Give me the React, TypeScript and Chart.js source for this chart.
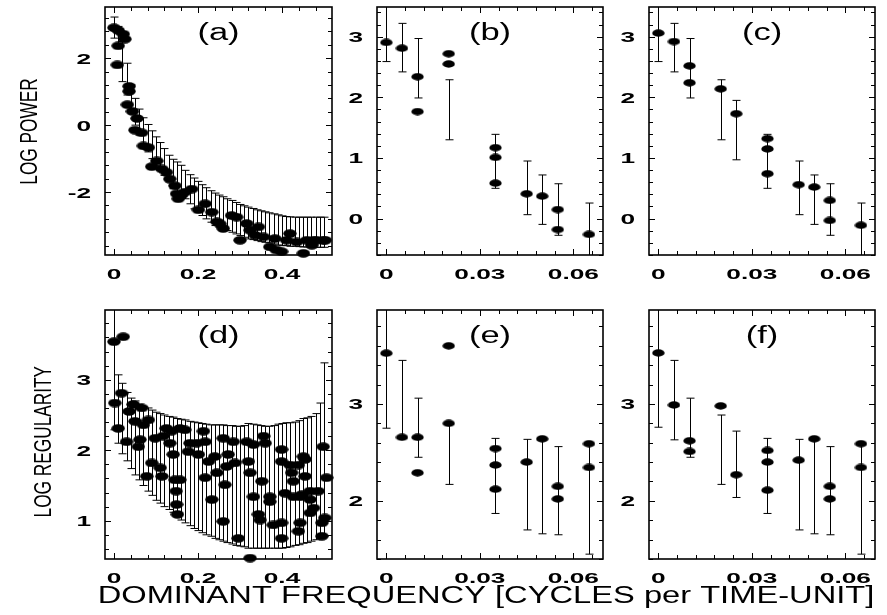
import React, { useEffect, useRef } from "react";
import { Chart, registerables } from "chart.js";
Chart.register(...registerables);

const W = 887;
const H = 615;

// ---------- shared x positions of the error bars ----------
const wideBarX = [0, 0.01, 0.02, 0.03, 0.04, 0.05, 0.06, 0.07, 0.08, 0.09, 0.1, 0.11, 0.12, 0.13, 0.14, 0.15, 0.16, 0.17, 0.18, 0.19, 0.2, 0.21, 0.22, 0.23, 0.24, 0.25, 0.26, 0.27, 0.28, 0.29, 0.3, 0.31, 0.32, 0.33, 0.34, 0.35, 0.36, 0.37, 0.38, 0.39, 0.4, 0.41, 0.42, 0.43, 0.44, 0.45, 0.46, 0.47, 0.48, 0.49, 0.5];
const narrowBarX = [0, 0.005, 0.01, 0.02, 0.035, 0.045, 0.05, 0.055, 0.065];
const narrowBarX2 = [0, 0.005, 0.01, 0.02, 0.025, 0.035, 0.045, 0.05, 0.055, 0.065];

// ---------- panel (a) LOG POWER, all ----------
const aPointX = [0.0, 0.01, 0.022, 0.026, 0.01, 0.008, 0.036, 0.036, 0.032, 0.044, 0.055, 0.05, 0.066, 0.07, 0.082, 0.09, 0.102, 0.114, 0.125, 0.133, 0.145, 0.149, 0.153, 0.16, 0.169, 0.185, 0.201, 0.217, 0.233, 0.245, 0.26, 0.252, 0.28, 0.292, 0.3, 0.316, 0.324, 0.344, 0.336, 0.356, 0.371, 0.383, 0.386, 0.399, 0.411, 0.419, 0.435, 0.451, 0.459, 0.471, 0.475, 0.482, 0.498, 0.503];
const aPointY = [2.91, 2.83, 2.72, 2.57, 2.37, 1.8, 1.16, 1.01, 0.61, 0.41, 0.2, -0.15, -0.23, -0.62, -0.67, -1.24, -1.07, -1.31, -1.41, -1.61, -1.81, -2.05, -2.2, -2.1, -2.0, -1.91, -2.53, -2.35, -2.6, -2.89, -3.09, -2.95, -2.7, -2.75, -3.44, -2.94, -3.14, -3.04, -3.29, -3.34, -3.64, -3.39, -3.73, -3.78, -3.44, -3.24, -3.49, -3.83, -3.44, -3.59, -3.44, -3.44, -3.44, -3.44];
const aBarHigh = [3.23, 2.95, 2.5, 1.85, 1.2, 0.8, 0.48, 0.22, 0.02, -0.17, -0.35, -0.52, -0.7, -0.9, -1.02, -1.1, -1.2, -1.35, -1.48, -1.58, -1.68, -1.78, -1.87, -1.96, -2.03, -2.09, -2.14, -2.2, -2.25, -2.31, -2.37, -2.41, -2.45, -2.49, -2.53, -2.56, -2.59, -2.62, -2.65, -2.68, -2.71, -2.73, -2.74, -2.75, -2.75, -2.75, -2.75, -2.75, -2.75, -2.75, -2.75];
const aBarLow = [2.6, 2.3, 1.3, 0.9, 0.4, 0.0, -0.3, -0.6, -0.8, -1.0, -1.2, -1.35, -1.5, -1.7, -1.9, -2.0, -2.1, -2.2, -2.35, -2.5, -2.6, -2.7, -2.8, -2.9, -3.0, -3.05, -3.1, -3.15, -3.2, -3.25, -3.3, -3.35, -3.4, -3.42, -3.45, -3.48, -3.5, -3.52, -3.55, -3.58, -3.6, -3.6, -3.62, -3.62, -3.63, -3.64, -3.64, -3.65, -3.65, -3.65, -3.65];

// ---------- panel (b) ----------
const bPointX = [0, 0.005, 0.01, 0.01, 0.02, 0.02, 0.035, 0.035, 0.035, 0.045, 0.05, 0.055, 0.055, 0.065];
const bPointY = [2.905, 2.81, 2.34, 1.765, 2.72, 2.55, 1.17, 1.01, 0.585, 0.41, 0.37, 0.15, -0.18, -0.26];
const bBarHigh = [3.6, 3.22, 2.97, 2.29, 1.39, 0.95, 0.72, 0.575, 0.257];
const bBarLow = [2.59, 2.42, 1.99, 1.3, 0.5, 0.065, -0.095, -0.275, -0.65];

// ---------- panel (c) ----------
const cPointX = [0, 0.005, 0.01, 0.01, 0.02, 0.025, 0.035, 0.035, 0.035, 0.045, 0.05, 0.055, 0.055, 0.065];
const cPointY = [3.06, 2.92, 2.52, 2.24, 2.14, 1.73, 1.32, 1.15, 0.74, 0.56, 0.52, 0.3, -0.03, -0.11];
const cBarHigh = [3.6, 3.22, 2.97, 2.29, 1.95, 1.39, 0.95, 0.72, 0.575, 0.257];
const cBarLow = [2.59, 2.42, 1.99, 1.3, 0.97, 0.5, 0.065, -0.095, -0.275, -0.65];

// ---------- panel (d) LOG REGULARITY, all ----------
const dPointX = [0, 0.022, 0.018, 0.002, 0.01, 0.03, 0.036, 0.046, 0.05, 0.058, 0.066, 0.07, 0.062, 0.082, 0.078, 0.09, 0.098, 0.11, 0.114, 0.117, 0.125, 0.133, 0.141, 0.137, 0.145, 0.148, 0.149, 0.151, 0.157, 0.157, 0.169, 0.177, 0.181, 0.197, 0.201, 0.213, 0.217, 0.217, 0.225, 0.233, 0.24, 0.245, 0.26, 0.264, 0.26, 0.268, 0.272, 0.284, 0.288, 0.296, 0.316, 0.32, 0.324, 0.324, 0.332, 0.332, 0.344, 0.348, 0.352, 0.356, 0.36, 0.371, 0.371, 0.379, 0.399, 0.399, 0.399, 0.399, 0.407, 0.419, 0.423, 0.427, 0.439, 0.443, 0.451, 0.467, 0.467, 0.467, 0.475, 0.439, 0.427, 0.455, 0.455, 0.447, 0.486, 0.498, 0.506, 0.502, 0.495, 0.495, 0.443];
const dPointY = [3.54, 3.61, 2.81, 2.67, 2.31, 2.12, 2.55, 2.65, 2.41, 2.05, 2.6, 2.36, 2.15, 2.43, 1.63, 1.82, 2.17, 1.75, 1.63, 2.2, 2.31, 2.1, 1.94, 2.27, 1.58, 1.42, 1.23, 1.09, 1.58, 2.31, 2.29, 1.98, 2.1, 2.1, 1.94, 2.27, 2.12, 1.61, 1.84, 1.3, 1.91, 1.68, 2.17, 1.51, 0.99, 1.77, 1.94, 2.12, 1.82, 0.75, 2.12, 1.84, 1.68, 0.47, 1.34, 2.08, 1.09, 1.01, 1.56, 2.2, 2.1, 1.34, 1.27, 0.94, 2.01, 1.84, 0.97, 0.75, 1.39, 1.79, 1.68, 1.34, 0.85, 1.34, 1.91, 1.42, 1.3, 1.11, 1.18, 1.79, 1.56, 1.87, 1.63, 1.37, 1.42, 2.05, 1.61, 1.04, 0.97, 0.78, 0.97];
const dBarHigh = [4.1, 3.07, 2.95, 2.82, 2.74, 2.7, 2.65, 2.62, 2.6, 2.57, 2.54, 2.52, 2.5, 2.48, 2.47, 2.45, 2.44, 2.43, 2.41, 2.4, 2.39, 2.38, 2.37, 2.36, 2.36, 2.36, 2.36, 2.35, 2.35, 2.34, 2.34, 2.35, 2.38, 2.37, 2.36, 2.35, 2.34, 2.34, 2.35, 2.37, 2.38, 2.39, 2.39, 2.4, 2.42, 2.45, 2.46, 2.48, 2.52, 2.67, 3.24];
const dBarLow = [2.29, 2.1, 1.95, 1.85, 1.74, 1.65, 1.58, 1.5, 1.42, 1.36, 1.29, 1.25, 1.2, 1.16, 1.12, 1.07, 1.01, 0.97, 0.93, 0.89, 0.86, 0.83, 0.8, 0.78, 0.75, 0.73, 0.71, 0.69, 0.67, 0.65, 0.64, 0.63, 0.61, 0.61, 0.61, 0.61, 0.61, 0.61, 0.61, 0.61, 0.61, 0.62, 0.63, 0.65, 0.66, 0.68, 0.69, 0.71, 0.73, 0.75, 0.78];

// ---------- panel (e) ----------
const ePointX = [0, 0.005, 0.01, 0.01, 0.02, 0.02, 0.035, 0.035, 0.035, 0.045, 0.05, 0.055, 0.055, 0.065, 0.065];
const ePointY = [3.524, 2.656, 2.656, 2.29, 3.6, 2.8, 2.54, 2.37, 2.12, 2.4, 2.64, 2.15, 2.02, 2.59, 2.345];
const eBarHigh = [4.1, 3.45, 3.06, 2.8, 2.645, 2.635, 2.64, 2.56, 2.59];
const eBarLow = [2.75, 2.65, 2.45, 2.17, 1.87, 1.7, 1.66, 1.65, 1.45];

// ---------- panel (f) ----------
const fPointX = [0, 0.005, 0.01, 0.01, 0.02, 0.025, 0.035, 0.035, 0.035, 0.045, 0.05, 0.055, 0.055, 0.065, 0.065];
const fPointY = [3.527, 2.99, 2.62, 2.51, 2.98, 2.27, 2.52, 2.4, 2.11, 2.42, 2.64, 2.15, 2.02, 2.59, 2.345];
const fBarHigh = [4.1, 3.45, 3.06, 2.886, 2.72, 2.645, 2.635, 2.64, 2.56, 2.59];
const fBarLow = [2.76, 2.63, 2.45, 2.17, 2.035, 1.87, 1.7, 1.66, 1.65, 1.45];

// ---------- tick labels ----------
const wideXTicks = [0, 0.2, 0.4];
const wideXTickText = ["0", "0.2", "0.4"];
const narrowXTicks = [0, 0.03, 0.06];
const narrowXTickText = ["0", "0.03", "0.06"];
const aYTicks = [-2, 0, 2];
const bcYTicks = [0, 1, 2, 3];
const dYTicks = [1, 2, 3];
const efYTicks = [2, 3];

const panelLabels = ["(a)", "(b)", "(c)", "(d)", "(e)", "(f)"];
const yTitleTop = "LOG POWER";
const yTitleBottom = "LOG REGULARITY";
const xTitle = "DOMINANT FREQUENCY [CYCLES per TIME-UNIT]";

type Panel = {
  label: string;
  box: [number, number, number, number]; // left, top, right, bottom
  xr: [number, number];
  yr: [number, number];
  xMinor: number;
  yMinor: number;
  xTicks: number[];
  xTickText: string[];
  yTicks: number[];
  px: number[];
  py: number[];
  bx: number[];
  bh: number[];
  bl: number[];
  dot: [number, number];
};

const TOP = [5, 255];
const BOT = [310, 559];
const COLS = [
  [105, 332],
  [377, 603],
  [649, 875],
];

const PANELS: Panel[] = [
  { label: panelLabels[0], box: [COLS[0][0], TOP[0], COLS[0][1], TOP[1]], xr: [-0.0214, 0.519], yr: [-3.88, 3.53], xMinor: 0.04, yMinor: 0.4, xTicks: wideXTicks, xTickText: wideXTickText, yTicks: aYTicks, px: aPointX, py: aPointY, bx: wideBarX, bh: aBarHigh, bl: aBarLow, dot: [14, 9] },
  { label: panelLabels[1], box: [COLS[1][0], TOP[0], COLS[1][1], TOP[1]], xr: [-0.003, 0.0695], yr: [-0.6, 3.49], xMinor: 0.006, yMinor: 0.2, xTicks: narrowXTicks, xTickText: narrowXTickText, yTicks: bcYTicks, px: bPointX, py: bPointY, bx: narrowBarX, bh: bBarHigh, bl: bBarLow, dot: [13, 8] },
  { label: panelLabels[2], box: [COLS[2][0], TOP[0], COLS[2][1], TOP[1]], xr: [-0.003, 0.0695], yr: [-0.6, 3.49], xMinor: 0.006, yMinor: 0.2, xTicks: narrowXTicks, xTickText: narrowXTickText, yTicks: bcYTicks, px: cPointX, py: cPointY, bx: narrowBarX2, bh: cBarHigh, bl: cBarLow, dot: [13, 8] },
  { label: panelLabels[3], box: [COLS[0][0], BOT[0], COLS[0][1], BOT[1]], xr: [-0.0214, 0.519], yr: [0.457, 3.99], xMinor: 0.04, yMinor: 0.2, xTicks: wideXTicks, xTickText: wideXTickText, yTicks: dYTicks, px: dPointX, py: dPointY, bx: wideBarX, bh: dBarHigh, bl: dBarLow, dot: [14, 9] },
  { label: panelLabels[4], box: [COLS[1][0], BOT[0], COLS[1][1], BOT[1]], xr: [-0.003, 0.0695], yr: [1.4, 3.97], xMinor: 0.006, yMinor: 0.2, xTicks: narrowXTicks, xTickText: narrowXTickText, yTicks: efYTicks, px: ePointX, py: ePointY, bx: narrowBarX, bh: eBarHigh, bl: eBarLow, dot: [13, 8] },
  { label: panelLabels[5], box: [COLS[2][0], BOT[0], COLS[2][1], BOT[1]], xr: [-0.003, 0.0695], yr: [1.4, 3.97], xMinor: 0.006, yMinor: 0.2, xTicks: narrowXTicks, xTickText: narrowXTickText, yTicks: efYTicks, px: fPointX, py: fPointY, bx: narrowBarX2, bh: fBarHigh, bl: fBarLow, dot: [13, 8] },
];

const FONT = "'Liberation Sans', Arial, Helvetica, sans-serif";

function drawText(
  ctx: CanvasRenderingContext2D,
  text: string,
  x: number,
  y: number,
  font: string,
  sx: number,
  align: CanvasTextAlign,
  rotate = 0
) {
  ctx.save();
  ctx.translate(x, y);
  if (rotate) ctx.rotate(rotate);
  ctx.scale(sx, 1);
  ctx.font = font;
  ctx.textAlign = align;
  ctx.textBaseline = "alphabetic";
  ctx.fillStyle = "#000";
  ctx.fillText(text, 0, 0);
  ctx.restore();
}

function multiples(min: number, max: number, step: number) {
  const out: number[] = [];
  const i0 = Math.ceil(min / step - 1e-9);
  const i1 = Math.floor(max / step + 1e-9);
  for (let i = i0; i <= i1; i++) out.push(+(i * step).toFixed(6));
  return out;
}

function makeEllipse(w: number, h: number) {
  const c = document.createElement("canvas");
  c.width = w;
  c.height = h;
  const g = c.getContext("2d")!;
  g.fillStyle = "#000";
  g.beginPath();
  g.ellipse(w / 2, h / 2, w / 2 - 0.3, h / 2 - 0.3, 0, 0, Math.PI * 2);
  g.fill();
  return c;
}

function makeChart(canvas: HTMLCanvasElement, p: Panel, index: number) {
  const [L, T, R, B] = p.box;
  const dot = makeEllipse(p.dot[0], p.dot[1]);
  const plugin = {
    id: "panelDecor" + index,
    beforeDatasetsDraw(chart: any) {
      const ctx: CanvasRenderingContext2D = chart.ctx;
      const xs = chart.scales.x;
      const ys = chart.scales.y;
      const a = chart.chartArea;
      ctx.save();
      ctx.beginPath();
      ctx.rect(a.left, a.top, a.right - a.left, a.bottom - a.top);
      ctx.clip();
      ctx.strokeStyle = "#000";
      ctx.lineWidth = 1;
      for (let i = 0; i < p.bx.length; i++) {
        const x = Math.round(xs.getPixelForValue(p.bx[i])) + 0.5;
        const y1 = ys.getPixelForValue(p.bh[i]);
        const y2 = ys.getPixelForValue(p.bl[i]);
        ctx.beginPath();
        ctx.moveTo(x, y1);
        ctx.lineTo(x, y2);
        ctx.moveTo(x - 4, y1);
        ctx.lineTo(x + 4, y1);
        ctx.moveTo(x - 4, y2);
        ctx.lineTo(x + 4, y2);
        ctx.stroke();
      }
      ctx.restore();
    },
    afterDraw(chart: any) {
      const ctx: CanvasRenderingContext2D = chart.ctx;
      const xs = chart.scales.x;
      const ys = chart.scales.y;
      const a = chart.chartArea;
      ctx.save();
      ctx.strokeStyle = "#000";
      ctx.lineWidth = 1.6;
      ctx.strokeRect(a.left, a.top, a.right - a.left, a.bottom - a.top);
      ctx.lineWidth = 1;
      const xmaj = new Set(p.xTicks.map((v) => v.toFixed(4)));
      const ymaj = new Set(p.yTicks.map((v) => v.toFixed(4)));
      ctx.beginPath();
      for (const v of multiples(p.xr[0], p.xr[1], p.xMinor)) {
        const x = Math.round(xs.getPixelForValue(v)) + 0.5;
        const len = xmaj.has(v.toFixed(4)) ? 6 : 4;
        ctx.moveTo(x, a.bottom);
        ctx.lineTo(x, a.bottom - len);
        ctx.moveTo(x, a.top);
        ctx.lineTo(x, a.top + len);
      }
      for (const v of multiples(p.yr[0], p.yr[1], p.yMinor)) {
        const y = Math.round(ys.getPixelForValue(v)) + 0.5;
        const len = ymaj.has(v.toFixed(4)) ? 6 : 4;
        ctx.moveTo(a.left, y);
        ctx.lineTo(a.left + len, y);
        ctx.moveTo(a.right, y);
        ctx.lineTo(a.right - len, y);
      }
      ctx.stroke();
      ctx.restore();

      const tickFont = "bold 15px " + FONT;
      p.xTicks.forEach((v, i) => {
        drawText(ctx, p.xTickText[i], xs.getPixelForValue(v), a.bottom + 24, tickFont, 1.75, "center");
      });
      p.yTicks.forEach((v) => {
        drawText(ctx, String(v), a.left - 14, ys.getPixelForValue(v) + 5.5, tickFont, 1.75, "right");
      });
      drawText(ctx, p.label, (a.left + a.right) / 2, a.top + 33, "23px " + FONT, 1.5, "center");

      if (index === 0) {
        drawText(ctx, yTitleTop, 37, 131.5, "23px " + FONT, 0.75, "center", -Math.PI / 2);
      }
      if (index === 3) {
        drawText(ctx, yTitleBottom, 50.5, 441.7, "23px " + FONT, 0.75, "center", -Math.PI / 2);
        drawText(ctx, xTitle, 486, 603, "23px " + FONT, 1.42, "center");
      }
    },
  };

  return new Chart(canvas, {
    type: "scatter",
    data: {
      datasets: [
        {
          data: p.px.map((x, i) => ({ x, y: p.py[i] })),
          pointStyle: dot as any,
          pointRadius: 6,
          clip: false as any,
          showLine: false,
        },
      ],
    },
    options: {
      responsive: false,
      animation: false,
      devicePixelRatio: 1,
      events: [],
      layout: { padding: { left: L, top: T, right: W - R, bottom: H - B } },
      plugins: { legend: { display: false }, tooltip: { enabled: false } },
      scales: {
        x: { type: "linear", display: false, min: p.xr[0], max: p.xr[1] },
        y: { type: "linear", display: false, min: p.yr[0], max: p.yr[1] },
      },
    },
    plugins: [plugin as any],
  });
}

export default function App() {
  const refs = useRef<(HTMLCanvasElement | null)[]>([]);
  useEffect(() => {
    const charts = PANELS.map((p, i) => makeChart(refs.current[i]!, p, i));
    return () => charts.forEach((c) => c.destroy());
  }, []);
  return (
    <div style={{ position: "fixed", left: 0, top: 0, width: W, height: H, background: "#fff" }}>
      {PANELS.map((p, i) => (
        <canvas
          key={i}
          ref={(el) => {
            refs.current[i] = el;
          }}
          width={W}
          height={H}
          style={{ position: "absolute", left: 0, top: 0, width: W, height: H }}
        />
      ))}
    </div>
  );
}
